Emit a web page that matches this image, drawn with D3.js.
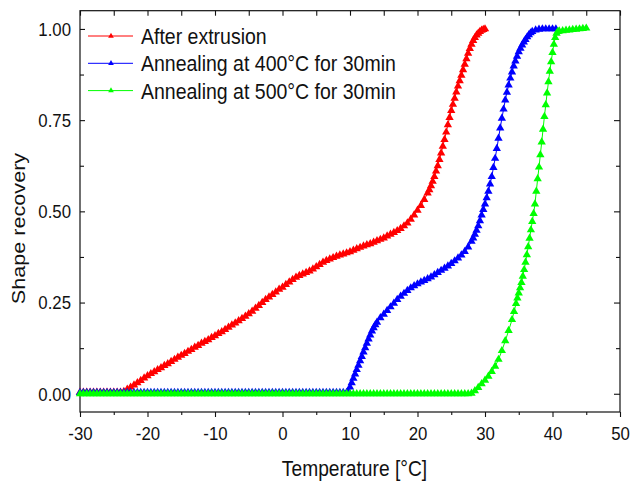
<!DOCTYPE html>
<html>
<head>
<meta charset="utf-8">
<script src="https://cdn.jsdelivr.net/npm/d3@7"></script>
<style>
  body { margin: 0; background: #fff; }
  #chart text { font-family: "Liberation Sans", Arial, sans-serif; fill: #111; }
</style>
</head>
<body>
<div id="chart"></div>
<script>
// series names and colours
var seriesNames = ["After extrusion", "Annealing at 400\u00B0C for 30min", "Annealing at 500\u00B0C for 30min"];
var seriesColors = ["#ff0000", "#0000ff", "#00ff00"];

// [temperature, recovery]
var afterExtrusion = [
  [-30,0.004],[-29.5,0.004],[-29,0.004],[-28.5,0.004],[-28,0.004],[-27.5,0.004],[-27,0.004],
  [-26.5,0.004],[-26,0.004],[-25.5,0.004],[-25,0.004],[-24.5,0.004],[-24,0.004],[-23.5,0.006],
  [-23,0.012],[-22.5,0.018],[-22,0.024],[-21.5,0.03],[-21,0.036],[-20.5,0.043],[-20,0.049],
  [-19.5,0.055],[-19,0.06],[-18.5,0.066],[-18,0.071],[-17.5,0.077],[-17,0.082],[-16.5,0.088],
  [-16,0.094],[-15.5,0.1],[-15,0.105],[-14.5,0.11],[-14,0.116],[-13.5,0.121],[-13,0.127],
  [-12.5,0.132],[-12,0.138],[-11.5,0.143],[-11,0.148],[-10.5,0.154],[-10,0.159],[-9.5,0.165],
  [-9,0.17],[-8.5,0.176],[-8,0.182],[-7.5,0.188],[-7,0.194],[-6.5,0.2],[-6,0.206],[-5.5,0.212],
  [-5,0.219],[-4.5,0.226],[-4,0.234],[-3.5,0.242],[-3,0.25],[-2.5,0.258],[-2,0.265],[-1.5,0.272],
  [-1,0.279],[-0.5,0.286],[0,0.292],[0.5,0.299],[1,0.306],[1.5,0.313],[2,0.319],[2.5,0.324],
  [3,0.328],[3.5,0.332],[4,0.336],[4.5,0.342],[5,0.348],[5.5,0.354],[6,0.36],[6.5,0.365],
  [7,0.369],[7.5,0.373],[8,0.377],[8.5,0.38],[9,0.383],[9.5,0.386],[10,0.389],[10.5,0.393],
  [11,0.397],[11.5,0.401],[12,0.405],[12.5,0.408],[13,0.411],[13.5,0.415],[14,0.419],[14.5,0.423],
  [15,0.427],[15.5,0.432],[16,0.437],[16.5,0.442],[17,0.447],[17.5,0.453],[18,0.46],[18.5,0.468],
  [19,0.478],[19.5,0.49],[20,0.503],[20.5,0.516],[21,0.532],[21.5,0.55],[21.75,0.559],[22,0.57],
  [22.25,0.582],[22.5,0.595],[22.75,0.61],[23,0.625],[23.25,0.642],[23.5,0.66],[23.75,0.678],
  [24,0.697],[24.25,0.717],[24.5,0.737],[24.75,0.757],[25,0.776],[25.25,0.793],[25.5,0.81],
  [25.75,0.827],[26,0.843],[26.25,0.858],[26.5,0.873],[26.75,0.888],[27,0.903],[27.25,0.918],
  [27.5,0.933],[27.75,0.946],[28,0.958],[28.25,0.968],[28.5,0.976],[28.75,0.983],[29,0.988],
  [29.25,0.993],[29.5,0.996],[29.75,0.998],[30,1.0]
];

var anneal400 = [
  [-30,0.003],[-29.5,0.003],[-29,0.003],[-28.5,0.003],[-28,0.003],[-27.5,0.003],[-27,0.003],[-26.5,0.003],
  [-26,0.003],[-25.5,0.003],[-25,0.003],[-24.5,0.003],[-24,0.003],[-23.5,0.003],[-23,0.003],[-22.5,0.003],
  [-22,0.003],[-21.5,0.003],[-21,0.003],[-20.5,0.003],[-20,0.003],[-19.5,0.003],[-19,0.003],[-18.5,0.003],
  [-18,0.003],[-17.5,0.003],[-17,0.003],[-16.5,0.003],[-16,0.003],[-15.5,0.003],[-15,0.003],[-14.5,0.003],
  [-14,0.003],[-13.5,0.003],[-13,0.003],[-12.5,0.003],[-12,0.003],[-11.5,0.003],[-11,0.003],[-10.5,0.003],
  [-10,0.003],[-9.5,0.003],[-9,0.003],[-8.5,0.003],[-8,0.003],[-7.5,0.003],[-7,0.003],[-6.5,0.003],
  [-6,0.003],[-5.5,0.003],[-5,0.003],[-4.5,0.003],[-4,0.003],[-3.5,0.003],[-3,0.003],[-2.5,0.003],
  [-2,0.003],[-1.5,0.003],[-1,0.003],[-0.5,0.003],[0,0.003],[0.5,0.003],[1,0.003],[1.5,0.003],
  [2,0.003],[2.5,0.003],[3,0.003],[3.5,0.003],[4,0.003],[4.5,0.003],[5,0.003],[5.5,0.003],
  [6,0.003],[6.5,0.003],[7,0.003],[7.5,0.003],[8,0.003],[8.5,0.003],[9,0.003],[9.5,0.003],
  [9.75,0.008],[10,0.018],[10.25,0.03],[10.5,0.042],[10.75,0.054],[11,0.066],[11.25,0.078],[11.5,0.09],
  [11.75,0.102],[12,0.114],[12.25,0.126],[12.5,0.138],[12.75,0.15],[13,0.161],[13.25,0.172],[13.5,0.181],
  [13.75,0.189],[14,0.196],[14.5,0.208],[15,0.218],[15.5,0.228],[16,0.238],[16.5,0.248],[17,0.258],
  [17.5,0.267],[18,0.275],[18.5,0.283],[19,0.29],[19.5,0.296],[20,0.301],[20.5,0.306],[21,0.31],
  [21.5,0.315],[22,0.32],[22.5,0.326],[23,0.332],[23.5,0.338],[24,0.344],[24.5,0.35],[25,0.357],
  [25.5,0.364],[26,0.372],[26.5,0.38],[27,0.39],[27.5,0.402],[28,0.418],[28.25,0.427],[28.5,0.437],
  [28.75,0.448],[29,0.46],[29.25,0.474],[29.5,0.49],[29.75,0.505],[30,0.52],[30.25,0.537],[30.5,0.555],
  [30.75,0.575],[31,0.595],[31.25,0.62],[31.5,0.645],[31.75,0.672],[32,0.7],[32.25,0.728],[32.5,0.755],
  [32.75,0.78],[33,0.805],[33.25,0.826],[33.5,0.846],[33.75,0.865],[34,0.882],[34.25,0.898],[34.5,0.912],
  [34.75,0.925],[35,0.937],[35.25,0.947],[35.5,0.956],[35.75,0.964],[36,0.971],[36.25,0.978],[36.5,0.984],
  [36.75,0.989],[37,0.993],[37.5,0.997],[38,0.999],[38.5,1],[39,1],[39.5,1],[40,1],[40.5,1]
];

var anneal500 = [
  [-30,0],[-29.5,0],[-29,0],[-28.5,0],[-28,0],[-27.5,0],[-27,0],[-26.5,0],[-26,0],[-25.5,0],
  [-25,0],[-24.5,0],[-24,0],[-23.5,0],[-23,0],[-22.5,0],[-22,0],[-21.5,0],[-21,0],[-20.5,0],
  [-20,0],[-19.5,0],[-19,0],[-18.5,0],[-18,0],[-17.5,0],[-17,0],[-16.5,0],[-16,0],[-15.5,0],
  [-15,0],[-14.5,0],[-14,0],[-13.5,0],[-13,0],[-12.5,0],[-12,0],[-11.5,0],[-11,0],[-10.5,0],
  [-10,0],[-9.5,0],[-9,0],[-8.5,0],[-8,0],[-7.5,0],[-7,0],[-6.5,0],[-6,0],[-5.5,0],
  [-5,0],[-4.5,0],[-4,0],[-3.5,0],[-3,0],[-2.5,0],[-2,0],[-1.5,0],[-1,0],[-0.5,0],
  [0,0],[0.5,0],[1,0],[1.5,0],[2,0],[2.5,0],[3,0],[3.5,0],[4,0],[4.5,0],
  [5,0],[5.5,0],[6,0],[6.5,0],[7,0],[7.5,0],[8,0],[8.5,0],[9,0],[9.5,0],
  [10,0],[10.5,0],[11,0],[11.5,0],[12,0],[12.5,0],[13,0],[13.5,0],[14,0],[14.5,0],
  [15,0],[15.5,0],[16,0],[16.5,0],[17,0],[17.5,0],[18,0],[18.5,0],[19,0],[19.5,0],
  [20,0],[20.5,0],[21,0],[21.5,0],[22,0],[22.5,0],[23,0],[23.5,0],[24,0],[24.5,0],
  [25,0],[25.5,0],[26,0],[26.5,0],[27,0],[27.5,0],
  [28,0.001],[28.5,0.008],[29,0.017],[29.5,0.027],[30,0.037],[30.5,0.048],[31,0.061],[31.5,0.075],
  [32,0.094],[32.5,0.118],[33,0.145],[33.5,0.173],[34,0.203],[34.3,0.225],[34.6,0.247],[34.8,0.262],
  [35,0.276],[35.2,0.29],[35.4,0.305],[35.6,0.322],[35.8,0.34],[36,0.36],[36.2,0.381],[36.4,0.403],
  [36.6,0.426],[36.8,0.449],[37,0.472],[37.2,0.494],[37.4,0.52],[37.6,0.555],[37.8,0.589],[38,0.621],
  [38.2,0.655],[38.4,0.69],[38.6,0.725],[38.8,0.76],[39,0.792],[39.2,0.824],[39.4,0.855],[39.6,0.884],
  [39.8,0.91],[40,0.935],[40.2,0.958],[40.4,0.976],[40.6,0.988],[40.8,0.993],[41,0.994],[41.5,0.995],
  [42,0.996],[42.5,0.997],[43,0.998],[43.5,0.999],[44,1.0],[44.5,1.001],[45,1.002]
];

var xMajor = [-30, -20, -10, 0, 10, 20, 30, 40, 50];
var xMinor = [-25, -15, -5, 5, 15, 25, 35, 45];
var yMajor = [0, 0.25, 0.5, 0.75, 1.0];
var yMinor = [0.125, 0.375, 0.625, 0.875];

var xTitle = "Temperature [\u00B0C]";
var yTitle = "Shape recovery";

var render = function() {
  let width = 630, height = 481;
  let plot = { left: 80, right: 620, top: 10.7, bottom: 412 };

  let tempScale = d3.scaleLinear()
    .domain([-30, 50])
    .range([plot.left, plot.right]);

  let recScale = d3.scaleLinear()
    .domain([-0.05, 1.05])
    .range([plot.bottom, plot.top]);

  d3.select("#chart").html("");

  let svg = d3.select("#chart")
    .append("svg")
    .attr("width", width)
    .attr("height", height);

  // bottom axis: outward ticks with labels
  let bottom = svg.append("g")
    .attr("transform", "translate(0," + plot.bottom + ")");
  bottom.append("g").call(d3.axisBottom(tempScale).tickValues(xMajor).tickSize(5).tickSizeOuter(0)
    .tickFormat(function(d) { return String(d); }));
  bottom.append("g").call(d3.axisBottom(tempScale).tickValues(xMinor).tickSize(3).tickSizeOuter(0).tickFormat(""));
  bottom.selectAll("text")
    .attr("y", null).attr("dy", null)
    .attr("transform", "translate(0,28) scale(1,1.1)")
    .style("font-size", "16.8px");

  // top axis: inward ticks
  let top = svg.append("g")
    .attr("transform", "translate(0," + plot.top + ")");
  top.call(d3.axisTop(tempScale).tickValues(xMajor.concat(xMinor)).tickSize(-5).tickSizeOuter(0).tickFormat(""));

  // left axis: inward ticks, labels
  let left = svg.append("g")
    .attr("transform", "translate(" + plot.left + ",0)");
  left.append("g").call(d3.axisLeft(recScale).tickValues(yMajor).tickSize(-5).tickSizeOuter(0).tickPadding(9)
    .tickFormat(d3.format(".2f")));
  left.append("g").call(d3.axisLeft(recScale).tickValues(yMinor).tickSize(-4).tickSizeOuter(0).tickFormat(""));
  left.selectAll("text")
    .attr("x", null).attr("dy", null)
    .attr("transform", "translate(-9,6.4) scale(1,1.1)")
    .style("font-size", "16.8px");

  // right axis
  let right = svg.append("g")
    .attr("transform", "translate(" + plot.right + ",0)");
  right.append("g").call(d3.axisRight(recScale).tickValues(yMajor).tickSize(-6).tickSizeOuter(0).tickFormat(""));
  right.append("g").call(d3.axisRight(recScale).tickValues(yMinor).tickSize(-4).tickSizeOuter(0).tickFormat(""));

  svg.selectAll(".domain").remove();
  svg.selectAll(".tick line").attr("stroke", "#111").attr("stroke-width", 1.1);

  // frame
  svg.append("rect")
    .attr("x", plot.left).attr("y", plot.top)
    .attr("width", plot.right - plot.left)
    .attr("height", plot.bottom - plot.top)
    .attr("fill", "none")
    .attr("stroke", "#111")
    .attr("stroke-width", 1.2);

  let line = d3.line()
    .x(function(d) { return tempScale(d[0]); })
    .y(function(d) { return recScale(d[1]); });

  let tri = d3.symbol().type(d3.symbolTriangle).size(30);
  let allSeries = [afterExtrusion, anneal400, anneal500];

  allSeries.forEach(function(data, i) {
    let g = svg.append("g");
    g.append("path")
      .datum(data)
      .attr("d", line)
      .attr("fill", "none")
      .attr("stroke", seriesColors[i])
      .attr("stroke-width", 1);
    g.selectAll(".pt")
      .data(data)
      .enter()
      .append("path")
      .attr("d", tri)
      .attr("transform", function(d) { return "translate(" + tempScale(d[0]) + "," + recScale(d[1]) + ")"; })
      .attr("fill", seriesColors[i]);
  });

  // legend
  let legend = svg.append("g");
  seriesNames.forEach(function(name, i) {
    let ly = 36 + i * 27.3;
    legend.append("line")
      .attr("x1", 88).attr("x2", 133)
      .attr("y1", ly).attr("y2", ly)
      .attr("stroke", seriesColors[i])
      .attr("stroke-width", 1);
    legend.append("path")
      .attr("d", d3.symbol().type(d3.symbolTriangle).size(14))
      .attr("transform", "translate(111," + ly + ")")
      .attr("fill", seriesColors[i]);
    legend.append("text")
      .attr("transform", "translate(141," + (ly + 8) + ") scale(1,1.13)")
      .style("font-size", "19.5px")
      .text(name);
  });

  // axis titles
  svg.append("text")
    .attr("transform", "translate(354.5,475.7) scale(1,1.14)")
    .attr("text-anchor", "middle")
    .style("font-size", "19.2px")
    .text(xTitle);

  svg.append("text")
    .attr("transform", "translate(25,228.5) rotate(-90) scale(1.15,1)")
    .attr("text-anchor", "middle")
    .style("font-size", "18.8px")
    .text(yTitle);
};

render();
</script>
</body>
</html>
